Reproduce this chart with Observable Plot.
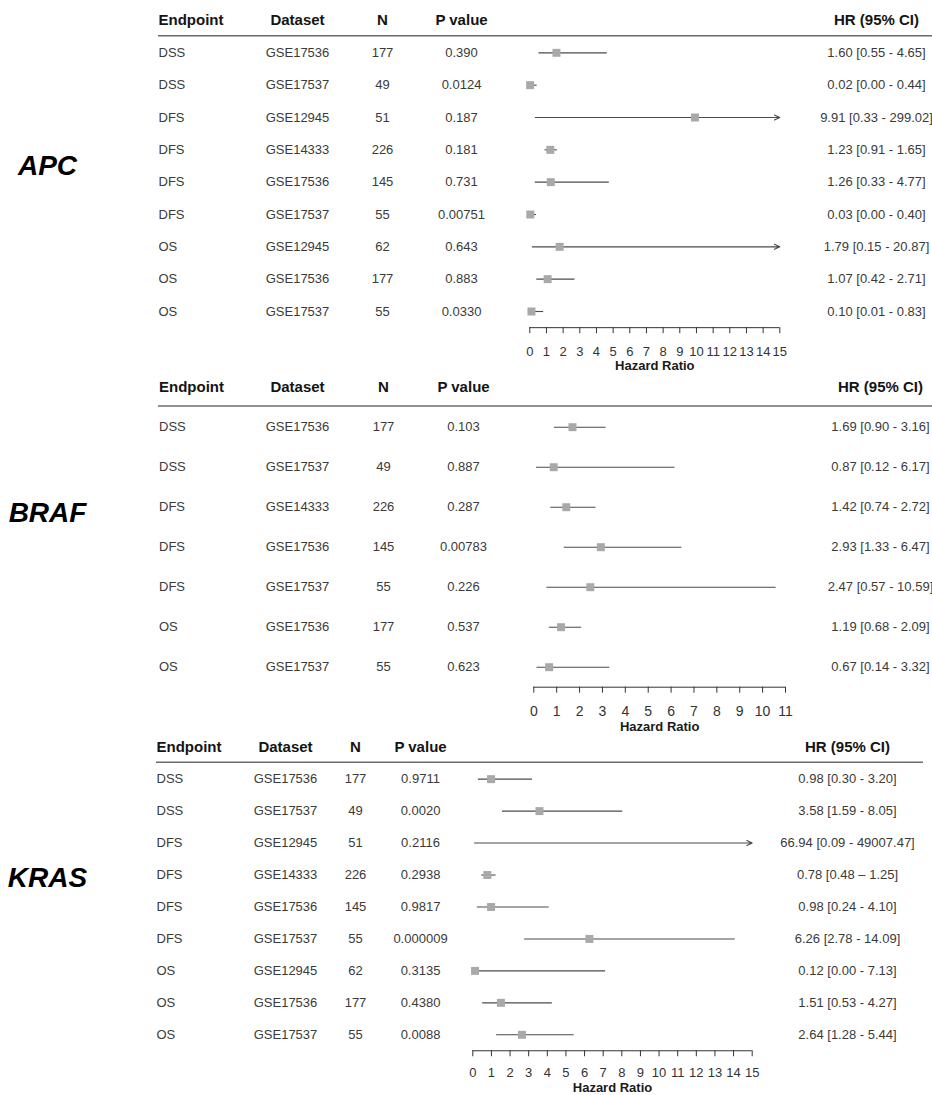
<!DOCTYPE html>
<html><head><meta charset="utf-8">
<script src="https://cdn.jsdelivr.net/npm/d3@7"></script>
<script src="https://cdn.jsdelivr.net/npm/@observablehq/plot@0.6"></script>
<style>
body{margin:0;background:#fff;}
#chart{width:932px;}
#chart svg{display:block;}
</style></head><body><div id="chart"></div>
<script>
const FONT = "'Liberation Sans', Arial, Helvetica, sans-serif";

// ---------- APC ----------
const apcEndpoint = ["DSS","DSS","DFS","DFS","DFS","DFS","OS","OS","OS"];
const apcDataset = ["GSE17536","GSE17537","GSE12945","GSE14333","GSE17536","GSE17537","GSE12945","GSE17536","GSE17537"];
const apcN = [177,49,51,226,145,55,62,177,55];
const apcP = ["0.390","0.0124","0.187","0.181","0.731","0.00751","0.643","0.883","0.0330"];
const apcHR = [1.60,0.02,9.91,1.23,1.26,0.03,1.79,1.07,0.10];
const apcLo = [0.55,0.00,0.33,0.91,0.33,0.00,0.15,0.42,0.01];
const apcHi = [4.65,0.44,299.02,1.65,4.77,0.40,20.87,2.71,0.83];
const apcHRText = ["1.60 [0.55 - 4.65]","0.02 [0.00 - 0.44]","9.91 [0.33 - 299.02]","1.23 [0.91 - 1.65]","1.26 [0.33 - 4.77]","0.03 [0.00 - 0.40]","1.79 [0.15 - 20.87]","1.07 [0.42 - 2.71]","0.10 [0.01 - 0.83]"];
const apcTicks = [0,1,2,3,4,5,6,7,8,9,10,11,12,13,14,15];

// ---------- BRAF ----------
const brafEndpoint = ["DSS","DSS","DFS","DFS","DFS","OS","OS"];
const brafDataset = ["GSE17536","GSE17537","GSE14333","GSE17536","GSE17537","GSE17536","GSE17537"];
const brafN = [177,49,226,145,55,177,55];
const brafP = ["0.103","0.887","0.287","0.00783","0.226","0.537","0.623"];
const brafHR = [1.69,0.87,1.42,2.93,2.47,1.19,0.67];
const brafLo = [0.90,0.12,0.74,1.33,0.57,0.68,0.14];
const brafHi = [3.16,6.17,2.72,6.47,10.59,2.09,3.32];
const brafHRText = ["1.69 [0.90 - 3.16]","0.87 [0.12 - 6.17]","1.42 [0.74 - 2.72]","2.93 [1.33 - 6.47]","2.47 [0.57 - 10.59]","1.19 [0.68 - 2.09]","0.67 [0.14 - 3.32]"];
const brafTicks = [0,1,2,3,4,5,6,7,8,9,10,11];

// ---------- KRAS ----------
const krasEndpoint = ["DSS","DSS","DFS","DFS","DFS","DFS","OS","OS","OS"];
const krasDataset = ["GSE17536","GSE17537","GSE12945","GSE14333","GSE17536","GSE17537","GSE12945","GSE17536","GSE17537"];
const krasN = [177,49,51,226,145,55,62,177,55];
const krasP = ["0.9711","0.0020","0.2116","0.2938","0.9817","0.000009","0.3135","0.4380","0.0088"];
const krasHR = [0.98,3.58,66.94,0.78,0.98,6.26,0.12,1.51,2.64];
const krasLo = [0.30,1.59,0.09,0.48,0.24,2.78,0.00,0.53,1.28];
const krasHi = [3.20,8.05,49007.47,1.25,4.10,14.09,7.13,4.27,5.44];
const krasHRText = ["0.98 [0.30 - 3.20]","3.58 [1.59 - 8.05]","66.94 [0.09 - 49007.47]","0.78 [0.48 \u2013 1.25]","0.98 [0.24 - 4.10]","6.26 [2.78 - 14.09]","0.12 [0.00 - 7.13]","1.51 [0.53 - 4.27]","2.64 [1.28 - 5.44]"];
const krasTicks = [0,1,2,3,4,5,6,7,8,9,10,11,12,13,14,15];

const columnLabels = ["Endpoint","Dataset","N","P value","HR (95% CI)"];
const columnKeys = ["endpoint","dataset","n","p","hrText"];
const columnAnchors = ["start","middle","middle","middle","middle"];

const panels = [
  {gene:"APC", endpoint:apcEndpoint, dataset:apcDataset, n:apcN, p:apcP, hr:apcHR, lo:apcLo, hi:apcHi, hrText:apcHRText, ticks:apcTicks,
   height:372, headerY:20, lastY:311, xRange:[529.3,779.3], cols:[158,297,382,461,876], inset:[158,0], tickPadding:13.5, tickFont:13, titleDy:38, geneRow:4.5},
  {gene:"BRAF", endpoint:brafEndpoint, dataset:brafDataset, n:brafN, p:brafP, hr:brafHR, lo:brafLo, hi:brafHi, hrText:brafHRText, ticks:brafTicks,
   height:362, headerY:14.7, lastY:294.7, xRange:[533.3,785], cols:[158.5,297,383,463,880], inset:[158,0], tickPadding:12.5, tickFont:14, titleDy:40, geneRow:3.15},
  {gene:"KRAS", endpoint:krasEndpoint, dataset:krasDataset, n:krasN, p:krasP, hr:krasHR, lo:krasLo, hi:krasHi, hrText:krasHRText, ticks:krasTicks,
   height:361, headerY:12.7, lastY:300.3, xRange:[472.3,751.7], cols:[156,285,355,420,847], inset:[156,9], tickPadding:11, tickFont:13, titleDy:37.5, geneRow:4.1}
];

const chart = document.getElementById("chart");

for (const P of panels) {
  const n = P.endpoint.length;
  const rows = d3.range(n).map(i => ({
    row: i + 1, endpoint: P.endpoint[i], dataset: P.dataset[i], n: String(P.n[i]), p: P.p[i],
    hr: P.hr[i], lo: P.lo[i], hi: P.hi[i], hrText: P.hrText[i]
  }));
  const xmin = P.ticks[0], xmax = P.ticks[P.ticks.length - 1];
  const step = (P.lastY - P.headerY) / n;
  const axisY = P.headerY + (n + 0.5) * step;

  const marks = [];
  // header rule
  marks.push(Plot.ruleY([0.47], {insetLeft: P.inset[0], insetRight: P.inset[1], stroke: "#6b6b6b", strokeWidth: 1.4}));
  // table columns
  columnLabels.forEach((label, c) => {
    marks.push(Plot.text([label], {y: 0, frameAnchor: "left", dx: P.cols[c], textAnchor: columnAnchors[c],
      fontSize: 15, fontWeight: "bold", fill: "#141414"}));
    marks.push(Plot.text(rows, {y: "row", text: columnKeys[c], frameAnchor: "left", dx: P.cols[c], textAnchor: columnAnchors[c],
      fontSize: 13, fill: "#3a3a3a"}));
  });
  // CI lines
  marks.push(Plot.ruleY(rows.filter(d => d.hi <= xmax), {y: "row", x1: "lo", x2: "hi", stroke: "#4a4a4a", strokeWidth: 1.1}));
  marks.push(Plot.arrow(rows.filter(d => d.hi > xmax), {x1: "lo", x2: d => Math.min(d.hi, xmax), y1: "row", y2: "row",
    stroke: "#4a4a4a", strokeWidth: 1.1, headLength: 8, headAngle: 50}));
  // point estimates
  marks.push(Plot.dot(rows.filter(d => d.hr <= xmax), {x: "hr", y: "row", symbol: "square", r: 4.5, fill: "#a9a9a9", stroke: "none"}));
  // axis line + ticks
  marks.push(Plot.ruleY([n + 0.5], {x1: xmin, x2: xmax, stroke: "#333", strokeWidth: 1}));
  marks.push(Plot.axisX({ticks: P.ticks, anchor: "bottom", tickSize: 6, tickPadding: P.tickPadding, fontSize: P.tickFont,
    tickFormat: d3.format("d"), label: null, color: "#333"}));
  marks.push(Plot.text(["Hazard Ratio"], {x: (xmin + xmax) / 2, frameAnchor: "bottom", lineAnchor: "middle", dy: P.titleDy,
    fontSize: 13, fontWeight: "bold", fill: "#1a1a1a"}));
  // gene label
  marks.push(Plot.text([P.gene], {y: P.geneRow, frameAnchor: "left", dx: 47, textAnchor: "middle",
    fontSize: 28, fontWeight: "bold", fontStyle: "italic", fill: "#000"}));

  const svg = Plot.plot({
    width: 932,
    height: P.height,
    marginLeft: 0, marginRight: 0, marginTop: 0,
    marginBottom: P.height - axisY,
    x: {domain: [xmin, xmax], range: P.xRange},
    y: {domain: [0, n], range: [P.headerY, P.lastY], axis: null},
    style: {fontFamily: FONT, background: "#fff", overflow: "visible"},
    marks
  });
  chart.appendChild(svg);
}
</script></body></html>
